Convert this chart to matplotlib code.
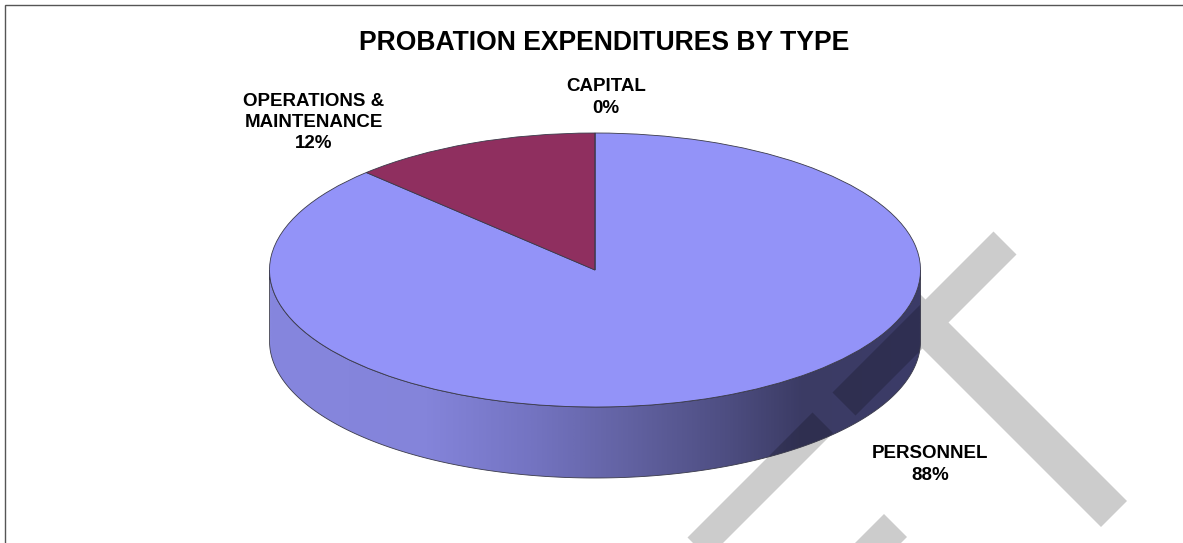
import numpy as np
import matplotlib
matplotlib.use("Agg")
import matplotlib.pyplot as plt
from matplotlib.patches import Polygon, PathPatch
from matplotlib.path import Path
from matplotlib.colors import LinearSegmentedColormap
from matplotlib.transforms import Affine2D

categories = ["PERSONNEL", "OPERATIONS &\nMAINTENANCE", "CAPITAL"]
values = [87.6, 12.4, 0.0]
slice_colors = ["#9393f8", "#8f2f5f", "#7f7fd0"]
title = "PROBATION EXPENDITURES BY TYPE"

W, H = 1183, 543
CX, CY, RX, RY, DEPTH = 595.0, 270.0, 325.5, 137.0, 71.0

plt.rcParams["font.family"] = ["Liberation Sans", "DejaVu Sans"]
fig = plt.figure(figsize=(W / 100, H / 100), dpi=100, facecolor="white")
ax = fig.add_axes([0, 0, 1, 1])

wedges, _ = ax.pie(values, colors=slice_colors, startangle=90, counterclock=False,
                   radius=1.0, center=(0, 0),
                   wedgeprops=dict(edgecolor="#3a3a4a", linewidth=0.6, zorder=6))
ax.set_aspect("auto")
ax.set_xlim(-CX / RX, (W - CX) / RX)
ax.set_ylim(-(H - CY) / RY, CY / RY)
ax.set_axis_off()

# pixel coordinates (origin top-left) for decorations
px = Affine2D().scale(1, -1).translate(0, H)


def band(s0, s1, d0, d1):
    """Diagonal stripe between x+y in s0..s1 and x-y in d0..d1 (pixels)."""
    return [((s + d) / 2, (s - d) / 2) for s, d in [(s0, d0), (s1, d0), (s1, d1), (s0, d1)]]


stripes = [
    band(1225, 1271, 440, 762),
    band(1225, 1266, 150, 400),
    band(1398, 1444, 150, 370),
]
back_stripe = band(950, 1628, 574, 626)
for pts in stripes + [back_stripe]:
    ax.add_patch(Polygon(pts, closed=True, transform=px, facecolor="#cccccc",
                         edgecolor="none", zorder=1))

# extruded side, built from the ellipse of the pie
t = np.linspace(np.pi, 2 * np.pi, 300)
xs = np.cos(t)
ys = np.sin(t)
d = DEPTH / RY
side_xy = np.vstack([np.column_stack([xs, ys]),
                     np.column_stack([xs[::-1], ys[::-1] - d])])
side_path = Path(np.vstack([side_xy, side_xy[0]]), closed=True)
cmap = LinearSegmentedColormap.from_list("side", [
    (0.00, "#8686de"), (0.24, "#8484da"), (0.40, "#7474c2"), (0.55, "#6262a2"),
    (0.70, "#4e4e82"), (0.82, "#3b3b64"), (1.00, "#3c3c68")])
im = ax.imshow(np.linspace(0, 1, 512)[None, :], cmap=cmap, aspect="auto",
               extent=(-1, 1, -1 - d, 0), zorder=2, interpolation="bilinear")
ax.set_xlim(-CX / RX, (W - CX) / RX)
ax.set_ylim(-(H - CY) / RY, CY / RY)
clip = PathPatch(side_path, transform=ax.transData, facecolor="none", edgecolor="none")
ax.add_patch(clip)
im.set_clip_path(clip)
ax.add_patch(PathPatch(side_path, facecolor="none", edgecolor="#3a3a4a", linewidth=0.6, zorder=4))

# watermark showing through the side
for pts in stripes:
    p = Polygon(pts, closed=True, transform=px, facecolor="black", alpha=0.2,
                edgecolor="none", zorder=3)
    ax.add_patch(p)
    p.set_clip_path(clip)

# frame: top and left only
ax.plot([4.5, 4.5, W], [H, 4.5, 4.5], transform=px, color="#555555", lw=1.0,
        zorder=8, clip_on=False, solid_joinstyle="miter")


def label(x, y, s, size):
    ax.text(x, y, s, transform=px, ha="center", va="center", fontsize=size,
            fontweight="bold", color="black", linespacing=1.33, zorder=10)


label(604, 43, title, 19.1)
label(314, 122.5, f"{categories[1]}\n{values[1]:.0f}%", 13.5)
label(606, 97.5, f"{categories[2]}\n{values[2]:.0f}%", 13.5)
label(930, 464.5, f"{categories[0]}\n{values[0]:.0f}%", 13.5)

fig.savefig("out.png", dpi=100, facecolor="white")
